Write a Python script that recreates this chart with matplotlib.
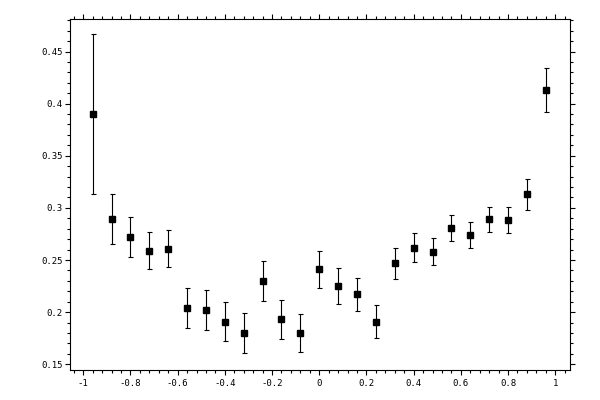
import matplotlib
matplotlib.use("Agg")
import matplotlib.pyplot as plt
from matplotlib.ticker import MultipleLocator, FuncFormatter

x = [-0.96, -0.88, -0.80, -0.72, -0.64, -0.56, -0.48, -0.40, -0.32, -0.24, -0.16, -0.08,
     0.00, 0.08, 0.16, 0.24, 0.32, 0.40, 0.48, 0.56, 0.64, 0.72, 0.80, 0.88, 0.96]
y = [0.390, 0.289, 0.272, 0.259, 0.261, 0.204, 0.202, 0.191, 0.180, 0.230, 0.193, 0.180,
     0.241, 0.225, 0.217, 0.191, 0.247, 0.262, 0.258, 0.281, 0.274, 0.289, 0.288, 0.313, 0.413]
yerr = [0.077, 0.024, 0.019, 0.018, 0.018, 0.019, 0.019, 0.019, 0.019, 0.019, 0.019, 0.018,
        0.018, 0.017, 0.016, 0.016, 0.015, 0.014, 0.013, 0.0125, 0.012, 0.012, 0.0125, 0.015, 0.021]

fig = plt.figure(figsize=(6, 4), dpi=100)
ax = fig.add_axes([0.116, 0.075, 0.8345, 0.877])
ax.errorbar(x, y, yerr=yerr, fmt='s', color='black', ms=5, capsize=1.8,
            elinewidth=0.8, capthick=0.8)
ax.set_xlim(-1.058, 1.064)
ax.set_ylim(0.1445, 0.481)

ax.xaxis.set_major_locator(MultipleLocator(0.2))
ax.xaxis.set_minor_locator(MultipleLocator(0.04))
ax.yaxis.set_major_locator(MultipleLocator(0.05))
ax.yaxis.set_minor_locator(MultipleLocator(0.01))

def fmt(v, pos):
    s = ('%.2f' % v).rstrip('0').rstrip('.')
    if s in ('-0', ''):
        s = '0'
    return s

ax.xaxis.set_major_formatter(FuncFormatter(fmt))
ax.yaxis.set_major_formatter(FuncFormatter(fmt))

ax.tick_params(which='both', direction='out', top=True, right=True,
               labeltop=False, labelright=False, width=0.8, color='black')
ax.tick_params(which='major', length=3.3, labelsize=6.5, pad=1.5)
ax.tick_params(axis='x', which='major', pad=3)
ax.tick_params(which='minor', length=2)
for lab in ax.get_xticklabels() + ax.get_yticklabels():
    lab.set_family('DejaVu Sans Mono')
for s in ax.spines.values():
    s.set_linewidth(0.8)

fig.savefig('out.png', dpi=100)
